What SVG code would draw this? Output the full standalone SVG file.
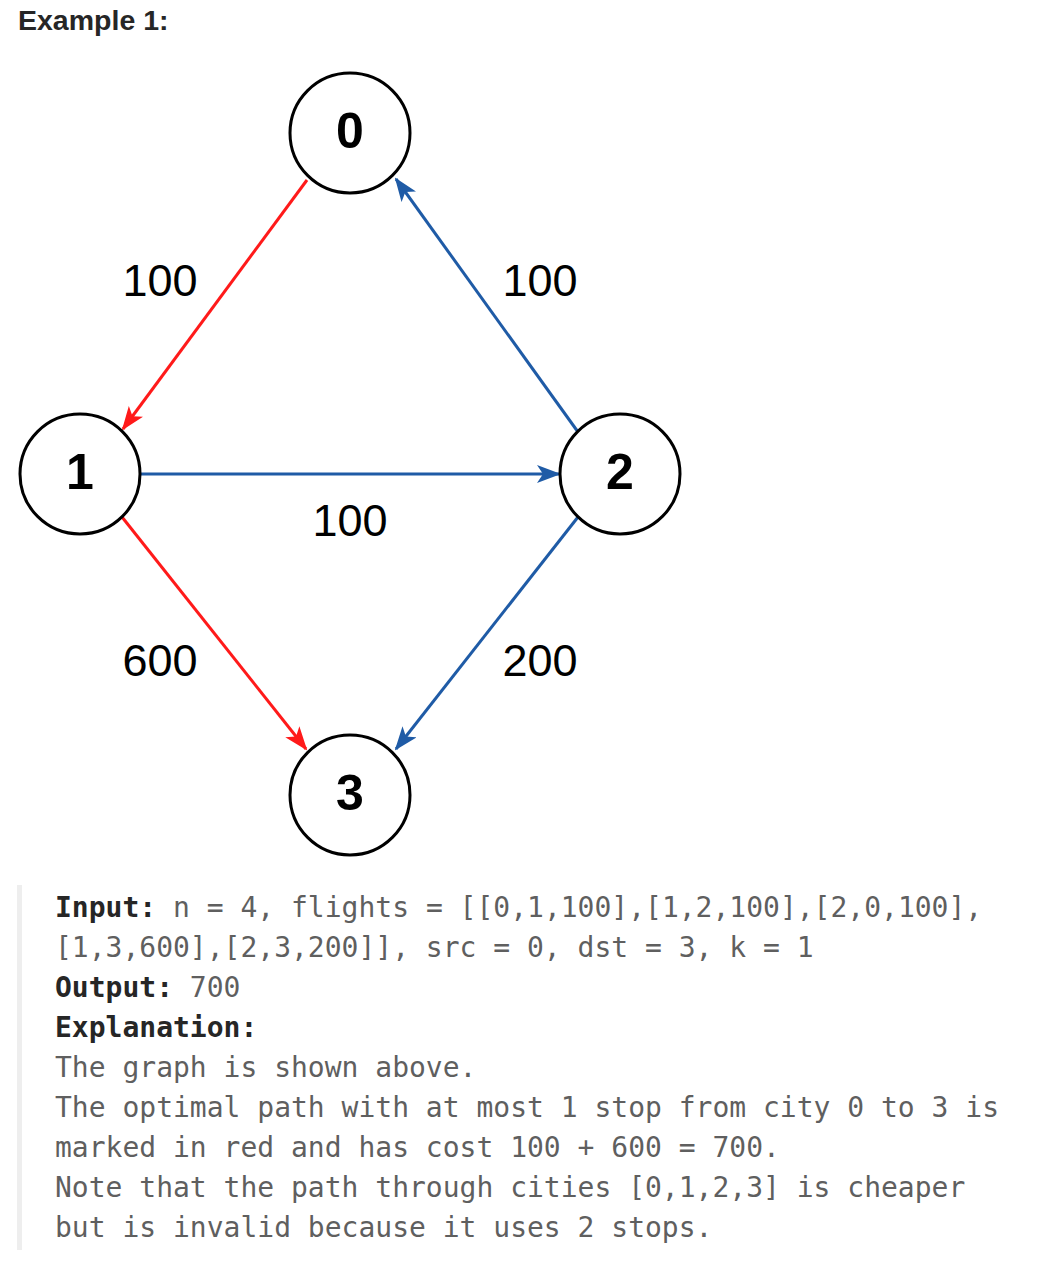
<svg xmlns="http://www.w3.org/2000/svg" width="1040" height="1268" viewBox="0 0 1040 1268">
<defs>
<style>
.node circle{fill:#fff;stroke:#000;stroke-width:3}
.node text{font-family:"Liberation Sans",Arial,sans-serif;font-weight:bold;font-size:50px;text-anchor:middle;fill:#000}
.lbl{font-family:"Liberation Sans",Arial,sans-serif;font-size:45px;text-anchor:middle;fill:#000}
.red{stroke:#ff1a1a;stroke-width:3;fill:none}
.blue{stroke:#1f5ba6;stroke-width:3;fill:none}
.mono{font-family:"DejaVu Sans Mono","Liberation Mono",monospace;font-size:28px;fill:#5f5f5f}
.b{font-weight:bold;fill:#262626}
</style>
<marker id="ar" viewBox="0 0 24 18" refX="22" refY="9" markerWidth="24" markerHeight="18" markerUnits="userSpaceOnUse" orient="auto">
<path d="M0,0 L24,9 L0,18 L6,9 z" fill="#ff1a1a"/>
</marker>
<marker id="ab" viewBox="0 0 24 18" refX="22" refY="9" markerWidth="24" markerHeight="18" markerUnits="userSpaceOnUse" orient="auto">
<path d="M0,0 L24,9 L0,18 L6,9 z" fill="#1f5ba6"/>
</marker>
</defs>
<rect width="1040" height="1268" fill="#fff"/>
<text x="18" y="30" font-family="'Liberation Sans',Arial,sans-serif" font-weight="bold" font-size="28.5" fill="#262626">Example 1:</text>
<g id="connectors">
<line class="red" x1="307" y1="180" x2="123" y2="429" marker-end="url(#ar)"/>
<line class="blue" x1="578" y1="432" x2="396" y2="179" marker-end="url(#ab)"/>
<line class="blue" x1="140" y1="474" x2="559" y2="474" marker-end="url(#ab)"/>
<line class="red" x1="122" y1="517" x2="306" y2="749" marker-end="url(#ar)"/>
<line class="blue" x1="578" y1="517" x2="396" y2="749" marker-end="url(#ab)"/>
<text class="lbl" x="160" y="296">100</text>
<text class="lbl" x="540" y="296">100</text>
<text class="lbl" x="350" y="536">100</text>
<text class="lbl" x="160" y="676">600</text>
<text class="lbl" x="540" y="676">200</text>
</g>
<g id="node0" class="node"><circle cx="350" cy="133" r="60"/><text x="350" y="148">0</text></g>
<g id="node1" class="node"><circle cx="80" cy="474" r="60"/><text x="80" y="489">1</text></g>
<g id="node2" class="node"><circle cx="620" cy="474" r="60"/><text x="620" y="489">2</text></g>
<g id="node3" class="node"><circle cx="350" cy="795" r="60"/><text x="350" y="810">3</text></g>
<rect x="17" y="885" width="5" height="365" fill="#eeeeee"/>
<g class="mono">
<text x="55" y="917"><tspan class="b">Input:</tspan> n = 4, flights = [[0,1,100],[1,2,100],[2,0,100],</text>
<text x="55" y="957">[1,3,600],[2,3,200]], src = 0, dst = 3, k = 1</text>
<text x="55" y="997"><tspan class="b">Output:</tspan> 700</text>
<text x="55" y="1037" class="b">Explanation:</text>
<text x="55" y="1077">The graph is shown above.</text>
<text x="55" y="1117">The optimal path with at most 1 stop from city 0 to 3 is</text>
<text x="55" y="1157">marked in red and has cost 100 + 600 = 700.</text>
<text x="55" y="1197">Note that the path through cities [0,1,2,3] is cheaper</text>
<text x="55" y="1237">but is invalid because it uses 2 stops.</text>
</g>
</svg>
